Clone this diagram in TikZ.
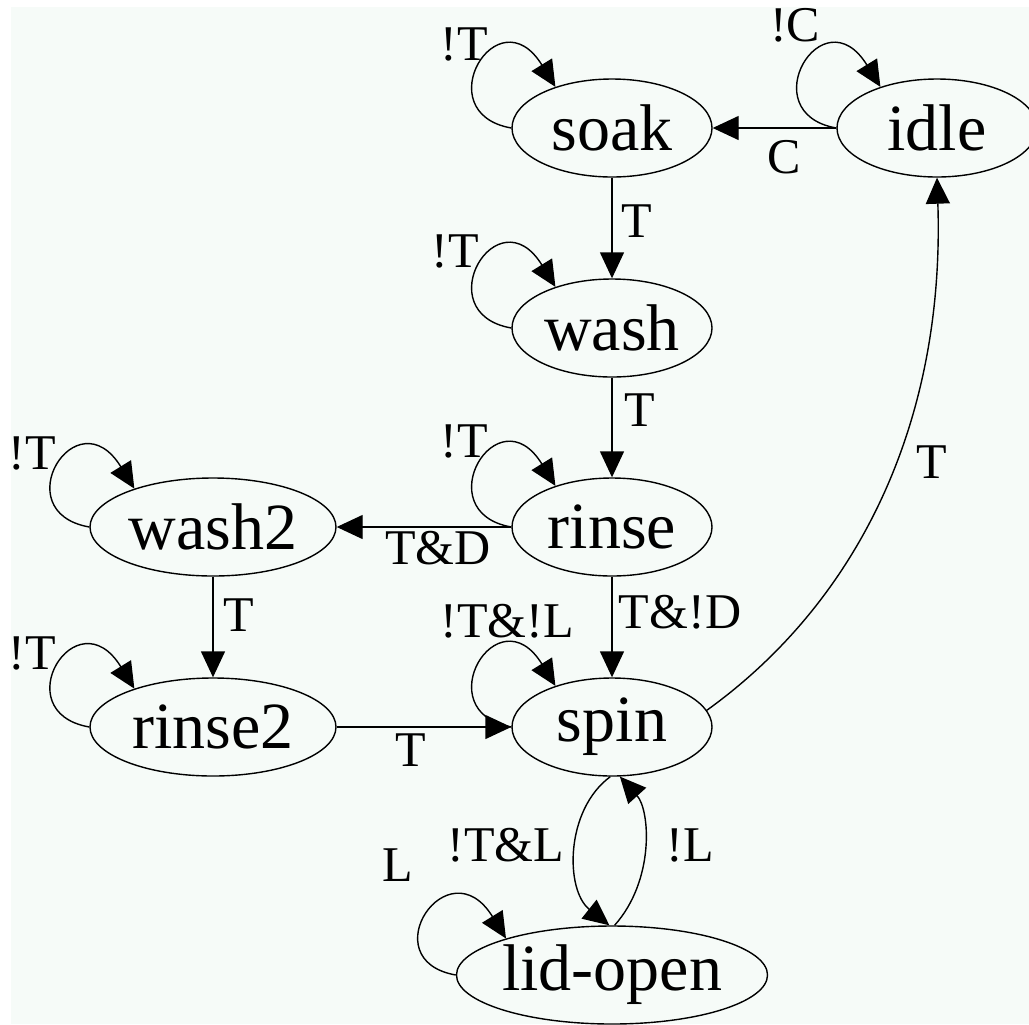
\documentclass[tikz,border=0pt]{standalone}
\usepackage{fontspec}
\setmainfont{Liberation Serif}
\usepackage{xcolor}
\usepackage{tikz}
\usetikzlibrary{arrows.meta,shapes.geometric}
\definecolor{paper}{RGB}{246,251,248}
\tikzset{
  % 状态
  state/.style={draw=black, line width=0.7pt, ellipse, inner sep=0pt,
    minimum width=100pt, minimum height=49pt, font=\fontsize{33}{33}\selectfont},
  widestate/.style={state, minimum width=123pt},
  % 转移
  trans/.style={draw=black, line width=0.7pt, -{Triangle[length=13pt,width=12pt]}},
  lbl/.style={inner sep=0pt, font=\fontsize{25}{25}\selectfont},
  selfloop/.style={to path={.. controls +(-85,-15) and +(-58,-94) .. (\tikztotarget)}}
}

\begin{document}
\begin{tikzpicture}[x=0.5pt, y=-0.5pt]
  \useasboundingbox (0,0) rectangle (1029,1024);
  \fill[paper] (11,7) rectangle (1029,1024);

  \node[state] (soak) at (612,128) {soak};
  \node[state] (idle) at (937,128) {idle};
  \node[state] (wash) at (612,328) {wash};
  \node[state] (rinse) at (612,527) {rinse};
  \node[widestate] (wash2) at (213,527) {wash2};
  \node[widestate] (rinse2) at (213,727) {rinse2};
  \node[state] (spin) at (612,727) {spin};
  \node[state, minimum width=150pt] (lidopen) at (612,975) {lid-open};

  % 自环
  \draw[trans] (soak.west) to[selfloop] (soak.144);
  \draw[trans] (idle.west) to[selfloop] (idle.144);
  \draw[trans] (wash.west) to[selfloop] (wash.144);
  \draw[trans] (rinse.west) to[selfloop] (rinse.144);
  \draw[trans] (wash2.west) to[selfloop] (wash2.154);
  \draw[trans] (rinse2.west) to[selfloop] (rinse2.154);
  \draw[trans] (spin.west) to[selfloop] (spin.144);
  \draw[trans] (lidopen.west) to[selfloop] (lidopen.161);

  \draw[trans] (idle) -- (soak);
  \draw[trans] (soak) -- (wash);
  \draw[trans] (wash) -- (rinse);
  \draw[trans] (rinse) -- (wash2);
  \draw[trans] (rinse) -- (spin);
  \draw[trans] (wash2) -- (rinse2);
  \draw[trans] (rinse2) -- (spin);
  \draw[trans] (spin.10) .. controls (860,600) and (945,420) .. (idle.south);
  \draw[trans] (spin.268) .. controls (565,810) and (565,890) .. (lidopen.93);
  \draw[trans] (lidopen.87) .. controls (655,880) and (650,810) .. (spin.279);

  \node[lbl] (lIdle) at (795,25) {!C};
  \node[lbl] (lStart) at (784,157) {C};
  \node[lbl] (lSoak) at (464,44) {!T};
  \node[lbl] (lSoakWash) at (637,221) {T};
  \node[lbl] (lWash) at (455,251) {!T};
  \node[lbl] (lWashRinse) at (640,410) {T};
  \node[lbl] (lRinse) at (464,441) {!T};
  \node[lbl] (lWash2) at (32,453) {!T};
  \node[lbl] (lRinseWash2) at (438,548) {T\&D};
  \node[lbl] (lWash2Rinse2) at (239,615) {T};
  \node[lbl] (lRinseSpin) at (680,612) {T\&!D};
  \node[lbl] (lSpin) at (507,621) {!T\&!L};
  \node[lbl] (lRinse2) at (32,653) {!T};
  \node[lbl] (lRinse2Spin) at (411,750) {T};
  \node[lbl] (lSpinIdle) at (932,462) {T};
  \node[lbl] (lOpen) at (506,845) {!T\&L};
  \node[lbl] (lClose) at (690,845) {!L};
  \node[lbl] (lLid) at (398,865) {L};
\end{tikzpicture}
\end{document}
